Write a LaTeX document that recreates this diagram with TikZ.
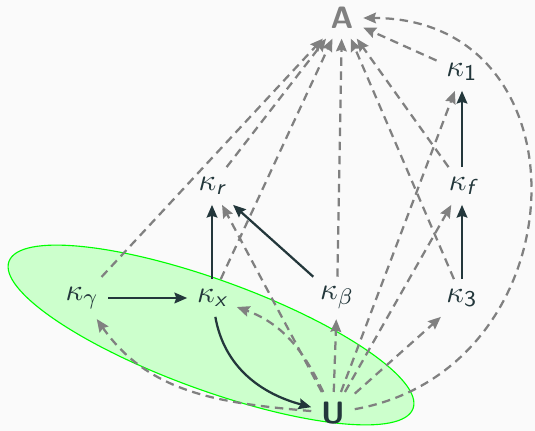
\documentclass[tikz,border=0pt]{standalone}
\usepackage{amsmath}
\usetikzlibrary{arrows.meta}
\tikzset{>={Stealth[length=4.5pt,width=3.8pt,inset=.6pt]}}
\definecolor{fgdark}{HTML}{23373B}
\definecolor{bgpage}{HTML}{FAFAFA}
\definecolor{dashgray}{HTML}{808080}
\newcommand{\ksub}[1]{\text{\sffamily\slshape #1}}
\tikzset{
  kap/.style={text=fgdark},
  dep/.style={->,draw=fgdark,line width=.8pt},
  gdash/.style={->,draw=dashgray,line width=.8pt,dash pattern=on 3pt off 2pt},
}

\begin{document}
\begin{tikzpicture}[x=.0125cm,y=-.0125cm,font=\fontsize{11}{13}\selectfont]
    \useasboundingbox[fill=bgpage] (0,0) rectangle (535,431);
    \draw[draw=green,fill=green!20,line width=.4pt,rotate around={-20:(211,335)}]
      (211,335) ellipse (215 and 55);

    \node[text=dashgray] (A) at (342,18) {\textsf{\bfseries A}};
    \node[kap] (k1) at (462,72) {$\kappa_{\mathsf{1}}$};
    \node[kap] (kf) at (462,186) {$\kappa_{\ksub{f}}$};
    \node[kap] (k3) at (462,298) {$\kappa_{\mathsf{3}}$};
    \node[kap] (kr) at (212,186) {$\kappa_{\ksub{r}}$};
    \node[kap] (kg) at (82,298) {$\kappa_{\gamma}$};
    \node[kap] (kx) at (212,298) {$\kappa_{\ksub{x}}$};
    \node[kap] (kb) at (337,298) {$\kappa_{\beta}$};
    \node[kap] (U) at (333,413) {\textsf{\bfseries U}};

    \draw[gdash] (kg) -- (A);
    \draw[gdash] (kr) -- (A);
    \draw[gdash] (kx) -- (A);
    \draw[gdash] (kb) -- (A);
    \draw[gdash] (kf) -- (A);
    \draw[gdash] (k3) -- (A);
    \draw[gdash] (k1) -- (A);
    \draw[gdash] (U) to[out=10,in=0,looseness=1.5] (A);

    \draw[gdash] (U) to[out=175,in=-55] (kg);
    \draw[gdash] (U) to[out=115,in=-20] (kx);
    \draw[gdash] (U) -- (kr);
    \draw[gdash] (U) -- (kb);
    \draw[gdash] (U) -- (k3);
    \draw[gdash] (U) -- (kf);
    \draw[gdash] (U) -- (k1);

    \draw[dep] (kg) -- (kx);
    \draw[dep] (kx) -- (kr);
    \draw[dep] (kb) -- (kr);
    \draw[dep] (k3) -- (kf);
    \draw[dep] (kf) -- (k1);
    \draw[dep] (kx) to[out=-80,in=165] (U);
\end{tikzpicture}
\end{document}
